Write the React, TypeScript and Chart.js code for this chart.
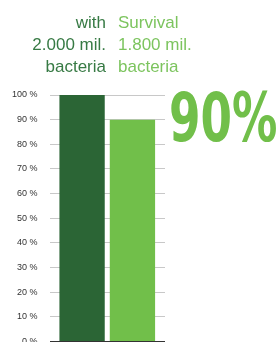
import React, { useEffect, useRef } from "react";
import { Chart, registerables } from "chart.js";

Chart.register(...registerables);

const categories = [""];
const seriesLabels = ["with 2.000 mil. bacteria", "Survival 1.800 mil. bacteria"];
const withValues = [100];
const survivalValues = [90];
const headline = "90%";
const leftLines = ["with", "2.000 mil.", "bacteria"];
const rightLines = ["Survival", "1.800 mil.", "bacteria"];
const tickMin = 0;
const tickMax = 100;
const tickStep = 10;

const DARK = "#2b6535";
const LIGHT = "#71bf4a";

export default function App() {
  const ref = useRef<HTMLCanvasElement>(null);
  useEffect(() => {
    if (!ref.current) return;
    const chart = new Chart(ref.current, {
      type: "bar",
      data: {
        labels: categories,
        datasets: [
          { label: seriesLabels[0], data: withValues, backgroundColor: DARK },
          { label: seriesLabels[1], data: survivalValues, backgroundColor: LIGHT },
        ],
      },
      options: {
        animation: false,
        responsive: false,
        maintainAspectRatio: false,
        layout: { padding: { top: 95, right: 115, left: 0, bottom: 0 } },
        datasets: { bar: { categoryPercentage: 0.872, barPercentage: 0.9 } },
        plugins: { legend: { display: false }, tooltip: { enabled: false } },
        scales: {
          x: { display: false },
          y: {
            min: tickMin,
            max: tickMax,
            ticks: {
              stepSize: tickStep,
              padding: 12,
              color: "#333",
              font: { family: "Liberation Sans", size: 9 },
              callback: (v: any) => v + " %",
            },
            grid: {
              drawTicks: false,
              color: (ctx: any) => (ctx.tick && ctx.tick.value === 0 ? "#333" : "#c8c8c8"),
            },
            border: { display: false },
          },
        },
      },
    });
    return () => chart.destroy();
  }, []);

  const textBase: React.CSSProperties = {
    position: "absolute",
    fontFamily: "'Liberation Sans', sans-serif",
    fontSize: 17,
    lineHeight: "22px",
  };

  return (
    <div style={{ position: "absolute", left: 0, top: 0, width: 280, height: 342, overflow: "hidden", background: "#fff" }}>
      <canvas ref={ref} width={280} height={359} style={{ position: "absolute", left: 0, top: 0 }} />
      <div style={{ ...textBase, right: 280 - 106, top: 12, textAlign: "right", color: "#377a44" }}>
        {leftLines.map((l, i) => (
          <div key={i}>{l}</div>
        ))}
      </div>
      <div style={{ ...textBase, left: 118, top: 12, textAlign: "left", color: "#7cc45e" }}>
        {rightLines.map((l, i) => (
          <div key={i}>{l}</div>
        ))}
      </div>
      <div
        style={{
          position: "absolute",
          left: 169,
          top: 78,
          fontFamily: "'DejaVu Sans Condensed', 'DejaVu Sans', sans-serif",
          fontWeight: "bold",
          fontSize: 68,
          lineHeight: "80px",
          color: LIGHT,
          transform: "scaleX(0.74)",
          transformOrigin: "left top",
          whiteSpace: "nowrap",
        }}
      >
        {headline}
      </div>
    </div>
  );
}
